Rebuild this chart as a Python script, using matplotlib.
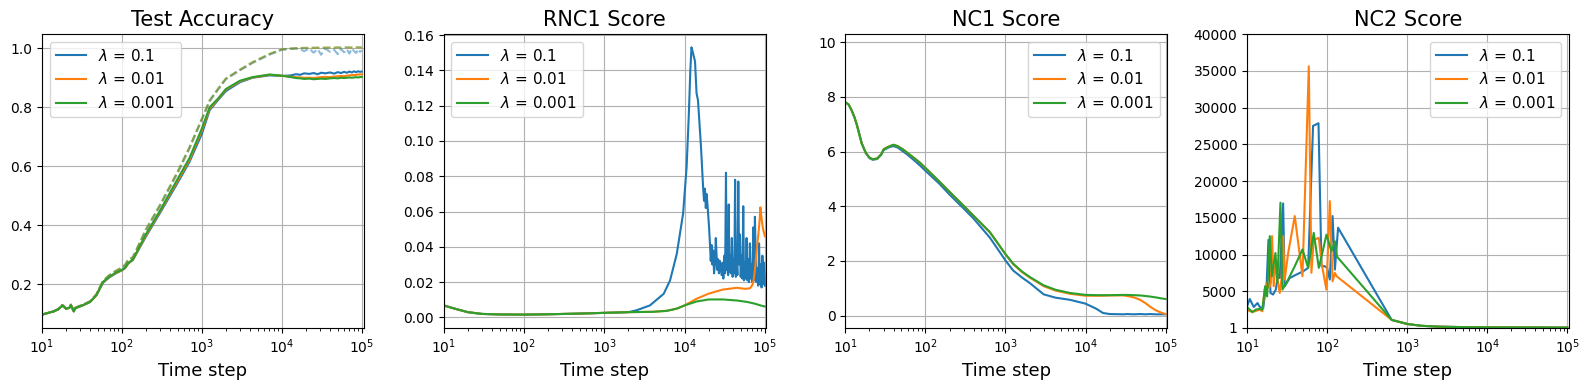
import numpy as np
import matplotlib
matplotlib.use("Agg")
import matplotlib.pyplot as plt

labels = [r'$\lambda$ = 0.1', r'$\lambda$ = 0.01', r'$\lambda$ = 0.001']
colors = ['tab:blue', 'tab:orange', 'tab:green']

# ---- test / train accuracy ----
acc_steps = [10, 12, 14, 16, 18, 20, 22, 23, 25, 26, 28, 32, 40, 48, 58, 70, 85, 100, 110, 120, 137,
             200, 300, 500, 700, 1000, 1250, 1600, 2000, 3000, 4300, 7000, 10000, 13000, 15000, 17000,
             19000, 22000, 25000, 28000, 31000, 35000, 40000, 45000, 50000, 55000, 60000, 65000, 70000,
             75000, 80000, 85000, 90000, 95000, 100000]
test_acc_01 = [0.097, 0.103, 0.108, 0.115, 0.128, 0.117, 0.120, 0.129, 0.108, 0.118, 0.122, 0.128, 0.140,
               0.163, 0.205, 0.224, 0.238, 0.247, 0.255, 0.270, 0.282,
               0.362, 0.442, 0.545, 0.615, 0.710, 0.790, 0.825, 0.855, 0.885, 0.900, 0.908, 0.906, 0.908,
               0.912, 0.910, 0.915, 0.913, 0.916, 0.912, 0.917, 0.915, 0.918, 0.914, 0.919, 0.916, 0.920,
               0.917, 0.921, 0.918, 0.922, 0.919, 0.922, 0.920, 0.921]
test_acc_001 = [0.097, 0.103, 0.108, 0.115, 0.128, 0.117, 0.120, 0.129, 0.108, 0.118, 0.122, 0.128, 0.140,
                0.163, 0.207, 0.225, 0.239, 0.248, 0.256, 0.271, 0.283,
                0.366, 0.447, 0.552, 0.622, 0.722, 0.795, 0.828, 0.860, 0.888, 0.901, 0.910, 0.907, 0.903,
                0.902, 0.901, 0.900, 0.900, 0.899, 0.901, 0.902, 0.903, 0.902, 0.904, 0.905, 0.906, 0.905,
                0.907, 0.908, 0.909, 0.909, 0.910, 0.911, 0.911, 0.912]
test_acc_0001 = [0.097, 0.103, 0.108, 0.115, 0.128, 0.117, 0.120, 0.129, 0.108, 0.118, 0.122, 0.128, 0.140,
                 0.163, 0.208, 0.226, 0.240, 0.249, 0.257, 0.272, 0.284,
                 0.370, 0.450, 0.558, 0.628, 0.728, 0.800, 0.830, 0.862, 0.890, 0.902, 0.911, 0.907, 0.902,
                 0.899, 0.898, 0.896, 0.897, 0.895, 0.896, 0.897, 0.896, 0.898, 0.899, 0.898, 0.900, 0.899,
                 0.900, 0.901, 0.900, 0.901, 0.902, 0.901, 0.902, 0.903]
train_acc_01 = [0.097, 0.103, 0.108, 0.116, 0.130, 0.118, 0.122, 0.131, 0.110, 0.120, 0.124, 0.130, 0.142,
                0.166, 0.210, 0.230, 0.245, 0.255, 0.265, 0.282, 0.290,
                0.383, 0.465, 0.578, 0.660, 0.758, 0.820, 0.860, 0.895, 0.925, 0.950, 0.978, 0.995, 0.998,
                0.999, 0.997, 0.990, 0.999, 0.985, 0.997, 0.978, 0.999, 0.988, 0.995, 0.980, 0.998, 0.986,
                0.996, 0.982, 0.999, 0.990, 0.984, 0.997, 0.988, 0.992]
train_acc_001 = [0.097, 0.103, 0.108, 0.116, 0.130, 0.118, 0.122, 0.131, 0.110, 0.120, 0.124, 0.130, 0.142,
                 0.166, 0.211, 0.231, 0.246, 0.256, 0.266, 0.283, 0.291,
                 0.385, 0.468, 0.581, 0.663, 0.760, 0.822, 0.862, 0.897, 0.927, 0.952, 0.980, 0.996, 0.999,
                 1.000, 1.001, 1.001, 1.002, 1.001, 1.002, 1.002, 1.002, 1.003, 1.002, 1.003, 1.002, 1.003,
                 1.003, 1.002, 1.003, 1.003, 1.003, 1.003, 1.003, 1.003]
train_acc_0001 = [0.097, 0.103, 0.108, 0.116, 0.130, 0.118, 0.122, 0.131, 0.110, 0.120, 0.124, 0.130, 0.142,
                  0.166, 0.212, 0.232, 0.247, 0.257, 0.267, 0.284, 0.292,
                  0.387, 0.470, 0.584, 0.665, 0.762, 0.824, 0.864, 0.898, 0.928, 0.953, 0.981, 0.996, 0.999,
                  1.000, 1.001, 1.001, 1.001, 1.002, 1.002, 1.001, 1.002, 1.002, 1.002, 1.003, 1.002, 1.002,
                  1.003, 1.003, 1.002, 1.003, 1.003, 1.003, 1.003, 1.003]

# ---- RNC1 ----
rnc_steps_01 = [10, 15, 20, 30, 50, 100, 200, 500, 1000, 2000, 2500, 3700, 5500, 6600, 8000, 9600, 10600,
                11300, 11800, 12200, 12700, 13500, 14100, 14700, 16000, 17100,
                17500, 17900, 18400, 18800, 19300, 19700, 20200, 20700, 21200, 21700, 22200, 22700, 23300,
                23900, 24500, 25500, 26200, 26800, 27600, 28900, 29700, 30400, 31300, 32000, 32800, 33400,
                34100, 34900, 35500, 36100, 36900, 37800, 38800, 39700, 40600, 41700, 42600, 43500, 44500,
                45500, 46700, 47800, 49000, 50000, 51300, 52500, 53800, 55000, 56500, 57800, 59200, 60600,
                62100, 63500, 65100, 66700, 68300, 70000, 71700, 73400, 75200, 77000, 78800, 80700, 82700,
                84700, 86700, 88800, 91000, 93200, 95400, 97700, 100000]
rnc1_01 = [0.0068, 0.0045, 0.0030, 0.0020, 0.0017, 0.0016, 0.0018, 0.0022, 0.0026, 0.0030, 0.0040, 0.0068,
           0.0134, 0.0210, 0.0360, 0.0590, 0.0850,
           0.1150, 0.1400, 0.1530, 0.1500, 0.1450, 0.1270, 0.1230, 0.0970, 0.0720,
           0.0660, 0.0730, 0.0620, 0.0700, 0.0640, 0.0580, 0.0510, 0.0420, 0.0320, 0.0410, 0.0300, 0.0380,
           0.0250, 0.0300, 0.0450, 0.0270, 0.0330, 0.0250, 0.0320, 0.0240, 0.0310, 0.0220, 0.0350, 0.0250,
           0.0820, 0.0270, 0.0330, 0.0240, 0.0640, 0.0260, 0.0350, 0.0250, 0.0450, 0.0230, 0.0330, 0.0250,
           0.0780, 0.0230, 0.0340, 0.0240, 0.0770, 0.0300, 0.0470, 0.0230, 0.0350, 0.0220, 0.0630, 0.0210,
           0.0310, 0.0220, 0.0450, 0.0210, 0.0330, 0.0200, 0.0420, 0.0220, 0.0300, 0.0200, 0.0510, 0.0210,
           0.0570, 0.0320, 0.0200, 0.0280, 0.0180, 0.0420, 0.0190, 0.0300, 0.0170, 0.0350, 0.0190, 0.0310,
           0.0180]
rnc_steps_001 = [10, 15, 20, 30, 50, 100, 200, 500, 1000, 2000, 4000, 6000, 8000, 10000, 14000, 20000,
                 30000, 45000, 57000, 65000, 70000, 73000, 76000, 79000, 83000, 86000, 88000, 91000, 95000,
                 100000]
rnc1_001 = [0.0068, 0.0045, 0.0030, 0.0020, 0.0017, 0.0016, 0.0018, 0.0022, 0.0026, 0.0030, 0.0032,
            0.0038, 0.0050, 0.0068, 0.0105, 0.0135, 0.0158, 0.0168, 0.0162, 0.0165, 0.0184, 0.0220,
            0.0290, 0.0380, 0.0470, 0.0550, 0.0624, 0.0560, 0.0500, 0.0460]
rnc_steps_0001 = [10, 15, 20, 30, 50, 100, 200, 500, 1000, 2000, 4000, 6000, 8000, 10000, 14000, 20000,
                  30000, 45000, 60000, 75000, 90000, 100000]
rnc1_0001 = [0.0068, 0.0045, 0.0030, 0.0020, 0.0017, 0.0016, 0.0018, 0.0022, 0.0026, 0.0030, 0.0032,
             0.0037, 0.0050, 0.0068, 0.0090, 0.0102, 0.0102, 0.0096, 0.0088, 0.0078, 0.0067, 0.0062]

# ---- NC1 ----
nc1_steps = [10, 11, 12, 13, 14, 16, 18, 20, 22, 25, 28, 30, 33, 36, 40, 45, 53, 60, 71, 85, 100, 150, 200,
             300, 400, 640, 1000, 1250, 1600, 2000, 3000, 4200, 6400, 10000, 13700, 16500, 20000, 30000,
             33000, 40000, 48000, 56000, 64000, 75000, 90000, 100000]
nc1_01 = [7.80, 7.72, 7.50, 7.25, 6.95, 6.30, 5.95, 5.76, 5.70, 5.73, 5.88, 6.05, 6.12, 6.17, 6.20, 6.15,
          6.00, 5.88, 5.70, 5.50, 5.30, 4.82, 4.43, 3.92, 3.55, 2.85, 2.02, 1.65, 1.40, 1.20, 0.78, 0.66,
          0.58, 0.44, 0.25, 0.10, 0.06, 0.05, 0.06, 0.05, 0.06, 0.05, 0.06, 0.05, 0.05, 0.05]
nc1_001 = [7.80, 7.72, 7.50, 7.25, 6.95, 6.30, 5.95, 5.78, 5.72, 5.75, 5.90, 6.08, 6.15, 6.20, 6.25, 6.20,
           6.07, 5.95, 5.78, 5.60, 5.40, 4.90, 4.53, 4.02, 3.65, 3.05, 2.25, 1.88, 1.60, 1.40, 1.08, 0.92,
           0.80, 0.73, 0.73, 0.73, 0.74, 0.74, 0.72, 0.67, 0.58, 0.46, 0.33, 0.20, 0.10, 0.06]
nc1_0001 = [7.80, 7.72, 7.50, 7.25, 6.95, 6.30, 5.95, 5.78, 5.72, 5.75, 5.90, 6.08, 6.15, 6.20, 6.25, 6.20,
            6.07, 5.95, 5.78, 5.60, 5.40, 4.90, 4.53, 4.02, 3.65, 3.05, 2.25, 1.90, 1.62, 1.42, 1.11, 0.95,
            0.83, 0.76, 0.75, 0.75, 0.75, 0.76, 0.76, 0.75, 0.74, 0.72, 0.70, 0.67, 0.63, 0.61]

# ---- NC2 ----
nc2_steps_01 = [10, 10.8, 12.1, 13.5, 14.4, 15.9, 16.6, 17.5, 18.5, 19.6, 21.1, 22.8, 24.4, 25.6, 28.2,
                29.5, 34.1, 41.3, 50, 57.9, 66.7, 78, 85, 93.5, 100, 108, 117, 125, 137,
                640, 1000, 1500, 2500, 5000, 10000, 100000]
nc2_01 = [2950, 3950, 2860, 3400, 2860, 2680, 4300, 5700, 12000, 4770, 4550, 5200, 7270, 6800, 16950,
          5680, 6800, 7270, 7700, 8180, 27500, 27860, 8400, 8400, 8180, 6600, 15230, 7950, 13640,
          1100, 550, 300, 180, 120, 90, 60]
nc2_steps_001 = [10, 10.8, 12.5, 14.4, 15.5, 16.6, 17.8, 18.9, 19.8, 20.5, 21.5, 22.8, 23.9, 25.6, 26.9,
                 28.2, 29.5, 32.6, 39.4, 49.2, 59, 63.6, 68, 78.7, 85, 98, 108, 117, 125, 131,
                 640, 1000, 1500, 2500, 5000, 10000, 100000]
nc2_001 = [2500, 2270, 2270, 2500, 2270, 5230, 6140, 5450, 6140, 12500, 5680, 9300, 6600, 4770, 6600,
           12500, 6600, 10200, 15230, 7050, 35600, 7500, 12000, 12270, 8860, 5230, 17270, 6360, 7500, 7050,
           1100, 550, 300, 180, 120, 90, 60]
nc2_steps_0001 = [10, 11.65, 12.8, 14.1, 15.5, 16.8, 17.8, 19.2, 20.4, 22.6, 23.9, 26.1, 27.7, 32.6, 39.4,
                  49.2, 57.9, 68, 78.7, 87, 98, 113, 125, 133,
                  640, 1000, 1500, 2500, 5000, 10000, 100000]
nc2_0001 = [2860, 2140, 2500, 2590, 2500, 5680, 4300, 12500, 7050, 10200, 6140, 17050, 5230, 6600, 8400,
            10700, 8180, 12950, 8180, 10200, 12700, 10450, 11800, 9700,
            1100, 550, 300, 180, 120, 90, 60]

fig, axes = plt.subplots(1, 4, figsize=(15.89, 3.9), dpi=100)
fig.subplots_adjust(left=0.0264, right=0.9874, bottom=0.159, top=0.9128, wspace=0.248)

# test accuracy (solid) and train accuracy (dashed, faded)
ax = axes[0]
for tr, c in zip([train_acc_01, train_acc_001, train_acc_0001], colors):
    ax.plot(acc_steps, tr, '--', color=c, alpha=0.5)
for te, c, lab in zip([test_acc_01, test_acc_001, test_acc_0001], colors, labels):
    ax.plot(acc_steps, te, color=c, label=lab)
ax.set_title('Test Accuracy', fontsize=15)
ax.set_xlim(10, 1.06e5)

ax = axes[1]
for st, v, c, lab in zip([rnc_steps_01, rnc_steps_001, rnc_steps_0001], [rnc1_01, rnc1_001, rnc1_0001],
                         colors, labels):
    ax.plot(st, v, color=c, label=lab)
ax.set_title('RNC1 Score', fontsize=15)
ax.set_xlim(10, 1.02e5)

ax = axes[2]
for v, c, lab in zip([nc1_01, nc1_001, nc1_0001], colors, labels):
    ax.plot(nc1_steps, v, color=c, label=lab)
ax.set_title('NC1 Score', fontsize=15)
ax.set_xlim(10, 1.05e5)
ax.set_ylim(-0.45, 10.3)

ax = axes[3]
for st, v, c, lab in zip([nc2_steps_01, nc2_steps_001, nc2_steps_0001], [nc2_01, nc2_001, nc2_0001],
                         colors, labels):
    ax.plot(st, v, color=c, label=lab)
ax.set_title('NC2 Score', fontsize=15)
ax.set_xlim(10, 1.05e5)
ax.set_ylim(1, 40000)
ax.set_yticks([1, 5000, 10000, 15000, 20000, 25000, 30000, 35000, 40000])

for i, ax in enumerate(axes):
    ax.set_xscale('log')
    ax.set_xlabel('Time step', fontsize=13)
    ax.grid(True)
    ax.legend(loc='upper left' if i < 2 else 'upper right', fontsize=11)

fig.savefig('out.png')
